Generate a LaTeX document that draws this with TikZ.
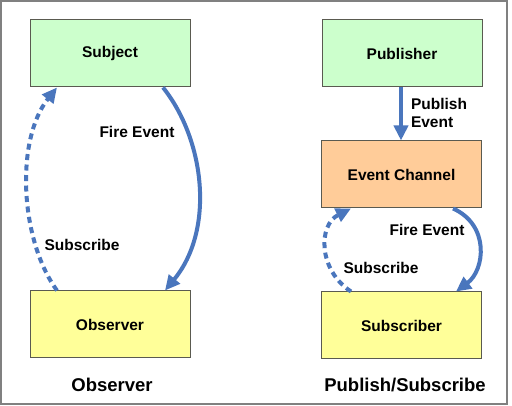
\documentclass[tikz,border=0pt]{standalone}
\usepackage{fontspec}
\setmainfont{Liberation Sans}
\usetikzlibrary{arrows.meta,calc}
\definecolor{arrowblue}{HTML}{4A76BD}
\definecolor{boxgreen}{HTML}{CCFFCC}
\definecolor{boxyellow}{HTML}{FFFF99}
\definecolor{boxorange}{HTML}{FFCC99}
\definecolor{boxline}{HTML}{5A5A50}
\definecolor{framegray}{HTML}{808080}
\begin{document}
\begin{tikzpicture}[x=1pt,y=-1pt,
  box/.style={draw=boxline,line width=1pt,minimum width=160pt,minimum height=67pt,inner sep=0pt,
    font=\fontsize{15.5}{18}\selectfont\bfseries},
  lbl/.style={inner sep=0pt,font=\fontsize{15.5}{18}\selectfont\bfseries,align=left},
  title/.style={inner sep=0pt,font=\fontsize{18.5}{22}\selectfont\bfseries},
  flow/.style={draw=arrowblue,line width=4pt,-{Triangle[length=15pt,width=14pt]}},
  subflow/.style={flow,dash pattern=on 6pt off 4.5pt}]
\useasboundingbox (0,0) rectangle (512,406);
\fill[white] (0,0) rectangle (512,406);
\draw[framegray,line width=2pt] (1,1) rectangle (507,404);

\node[box,fill=boxgreen] (subj) at (110,53.5) {Subject};
\node[box,fill=boxyellow] (obs) at (110,324.5) {Observer};
\node[box,fill=boxgreen] (pub) at (402,53.5) {Publisher};
\node[box,fill=boxorange] (chan) at (401.5,174.5) {Event Channel};
\node[box,fill=boxyellow] (sub) at (401.5,325.5) {Subscriber};

\node[lbl] (fire1) at (137,132) {Fire Event};
\node[lbl] (subs1) at (82,245) {Subscribe};
\node[lbl] (pubev) at (439,113) {Publish\\Event};
\node[lbl] (fire2) at (427,230) {Fire Event};
\node[lbl] (subs2) at (381,268) {Subscribe};
\node[title] (t1) at (112,385) {Observer};
\node[title] (t2) at (405,385) {Publish/Subscribe};

\draw[flow] ([xshift=53pt]subj.south) .. controls (205,140) and (215,230) .. ([xshift=55pt]obs.north);
\draw[subflow] ([xshift=-53pt]obs.north) .. controls (20,240) and (15,140) .. ([xshift=-53pt]subj.south);
\draw[flow] ([xshift=-1pt]pub.south) -- ([xshift=-0.5pt]chan.north);
\draw[flow] ([xshift=51.5pt]chan.south) .. controls (490,225) and (485,270) .. ([xshift=54.5pt]sub.north);
\draw[subflow] ([xshift=-50.5pt]sub.north) .. controls (318,270) and (318,225) .. ([xshift=-50.5pt]chan.south);
\end{tikzpicture}
\end{document}
